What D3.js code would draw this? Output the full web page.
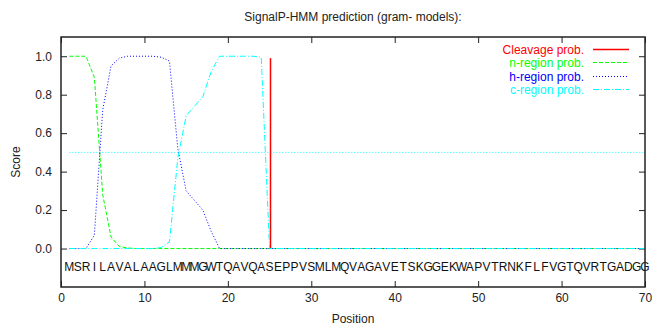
<!DOCTYPE html>
<html>
<head>
<meta charset="utf-8">
<script src="https://cdn.jsdelivr.net/npm/d3@7/dist/d3.min.js"></script>
<style>
  body { margin: 0; background: #fff; }
  text { font-family: "Liberation Sans", Arial, sans-serif; }
</style>
</head>
<body>
<div id="chart"></div>
<script>
const sequence = 'MSRILAVALAAGLMMMGWTQAVQASEPPVSMLMQVAGAVETSKGGEKWAPVTRNKFLFVGTQVRTGADGG'.split('');

const cleavage = [0,0,0,0,0,0,0,0,0,0, 0,0,0,0,0,0,0,0,0,0, 0,0,0,0,0.99,0,0,0,0,0,
  0,0,0,0,0,0,0,0,0,0, 0,0,0,0,0,0,0,0,0,0, 0,0,0,0,0,0,0,0,0,0, 0,0,0,0,0,0,0,0,0,0];
const nRegion = [1,1,1,0.89,0.28,0.06,0.01,0.003,0,0, 0,0,0,0,0,0,0,0,0,0, 0,0,0,0,0,0,0,0,0,0,
  0,0,0,0,0,0,0,0,0,0, 0,0,0,0,0,0,0,0,0,0, 0,0,0,0,0,0,0,0,0,0, 0,0,0,0,0,0,0,0,0,0];
const hRegion = [0,0,0,0.07,0.72,0.95,0.99,1,1,1, 1,0.995,0.975,0.52,0.3,0.25,0.2,0.09,0,0,
  0,0,0,0,0,0,0,0,0,0, 0,0,0,0,0,0,0,0,0,0, 0,0,0,0,0,0,0,0,0,0, 0,0,0,0,0,0,0,0,0,0, 0,0,0,0,0,0,0,0,0,0];
const cRegion = [0,0,0,0,0,0,0,0,0,0, 0,0.005,0.035,0.47,0.69,0.74,0.79,0.92,1,1,
  1,1,1,0.995,0,0,0,0,0,0, 0,0,0,0,0,0,0,0,0,0, 0,0,0,0,0,0,0,0,0,0, 0,0,0,0,0,0,0,0,0,0, 0,0,0,0,0,0,0,0,0,0];
const threshold = 0.5;

const xTicks = [0, 10, 20, 30, 40, 50, 60, 70];
const yTicks = [0, 0.2, 0.4, 0.6, 0.8, 1.0];
const legendNames = ['Cleavage prob.', 'n-region prob.', 'h-region prob.', 'c-region prob.'];
const legendColors = ['#ff0000', '#00ff00', '#0000ff', '#00ffff'];

const width = 653;
const height = 328;
const mLeft = 61, mRight = 645, mTop = 37, mBottom = 287;

const svg = d3.select('#chart')
  .append('svg')
  .attr('width', width)
  .attr('height', height);

const x = d3.scaleLinear().domain([0, 70]).range([mLeft, mRight]);
const y = d3.scaleLinear().domain([-0.2, 1.1]).range([mBottom, mTop]);

const positions = sequence.map((d, i) => i + 1);

// axes, ticks pointing inward
const axisStyle = g => {
  g.select('.domain').remove();
  g.selectAll('.tick line').attr('stroke', '#222').attr('stroke-width', 1);
  g.selectAll('text').attr('font-size', 12).attr('fill', '#222')
    .style('font-family', '"Liberation Sans", Arial, sans-serif');
};

svg.append('g')
  .attr('transform', `translate(0,${mBottom})`)
  .call(d3.axisBottom(x).tickValues(xTicks).tickSize(-6).tickPadding(6).tickFormat(d3.format('d')))
  .call(axisStyle);

svg.append('g')
  .attr('transform', `translate(0,${mTop})`)
  .call(d3.axisTop(x).tickValues(xTicks).tickSize(-6).tickFormat(''))
  .call(axisStyle);

svg.append('g')
  .attr('transform', `translate(${mLeft},0)`)
  .call(d3.axisLeft(y).tickValues(yTicks).tickSize(-6).tickPadding(9).tickFormat(d3.format('.1f')))
  .call(axisStyle);

svg.append('g')
  .attr('transform', `translate(${mRight},0)`)
  .call(d3.axisRight(y).tickValues(yTicks).tickSize(-6).tickFormat(''))
  .call(axisStyle);

// threshold line
svg.append('line')
  .attr('x1', x(1)).attr('x2', x(70))
  .attr('y1', y(threshold)).attr('y2', y(threshold))
  .attr('stroke', '#00ffff')
  .attr('stroke-width', 1)
  .attr('stroke-dasharray', '1,2');

// cleavage impulses
svg.append('g')
  .selectAll('line')
  .data(positions.filter((p, i) => cleavage[i] > 0))
  .enter()
  .append('line')
  .attr('x1', d => Math.round(x(d)) + 0.5).attr('x2', d => Math.round(x(d)) + 0.5)
  .attr('y1', y(0)).attr('y2', d => y(cleavage[d - 1]))
  .attr('stroke', legendColors[0])
  .attr('stroke-width', 1.5);

const line = d3.line().x(d => x(d[0])).y(d => y(d[1]));
const series = [
  { values: nRegion, color: legendColors[1], dash: '4,2' },
  { values: hRegion, color: legendColors[2], dash: '1,2' },
  { values: cRegion, color: legendColors[3], dash: '6,2,1,2' }
];

series.forEach(s => {
  svg.append('path')
    .datum(positions.map((p, i) => [p, s.values[i]]))
    .attr('d', line)
    .attr('fill', 'none')
    .attr('stroke', s.color)
    .attr('stroke-width', 1)
    .attr('stroke-dasharray', s.dash);
});

// sequence letters
svg.append('g')
  .selectAll('text')
  .data(sequence)
  .enter()
  .append('text')
  .attr('x', (d, i) => x(i + 1))
  .attr('y', 271)
  .attr('text-anchor', 'middle')
  .attr('font-size', 12)
  .attr('fill', '#111')
  .text(d => d);

// border
svg.append('rect')
  .attr('x', mLeft).attr('y', mTop)
  .attr('width', mRight - mLeft).attr('height', mBottom - mTop)
  .attr('fill', 'none')
  .attr('stroke', '#222')
  .attr('stroke-width', 1.5);

// legend
const legend = svg.append('g');
const dashes = [null, '4,2', '1,2', '6,2,1,2'];
legendNames.forEach((name, i) => {
  const cy = Math.round(49 + i * 13.3) + 0.5;
  legend.append('text')
    .attr('x', 584).attr('y', cy + 4)
    .attr('text-anchor', 'end')
    .attr('font-size', 12)
    .attr('fill', legendColors[i])
    .text(name);
  legend.append('line')
    .attr('x1', 593).attr('x2', 629)
    .attr('y1', cy).attr('y2', cy)
    .attr('stroke', legendColors[i])
    .attr('stroke-width', i === 0 ? 1.3 : 1)
    .attr('stroke-dasharray', dashes[i]);
});

// titles
svg.append('text')
  .attr('x', (mLeft + mRight) / 2).attr('y', 21)
  .attr('text-anchor', 'middle')
  .attr('font-size', 12)
  .attr('fill', '#222')
  .text('SignalP-HMM prediction (gram- models):');

svg.append('text')
  .attr('x', (mLeft + mRight) / 2).attr('y', 323)
  .attr('text-anchor', 'middle')
  .attr('font-size', 12)
  .attr('fill', '#222')
  .text('Position');

svg.append('text')
  .attr('transform', `translate(20,${(mTop + mBottom) / 2}) rotate(-90)`)
  .attr('text-anchor', 'middle')
  .attr('font-size', 12)
  .attr('fill', '#222')
  .text('Score');
</script>
</body>
</html>
